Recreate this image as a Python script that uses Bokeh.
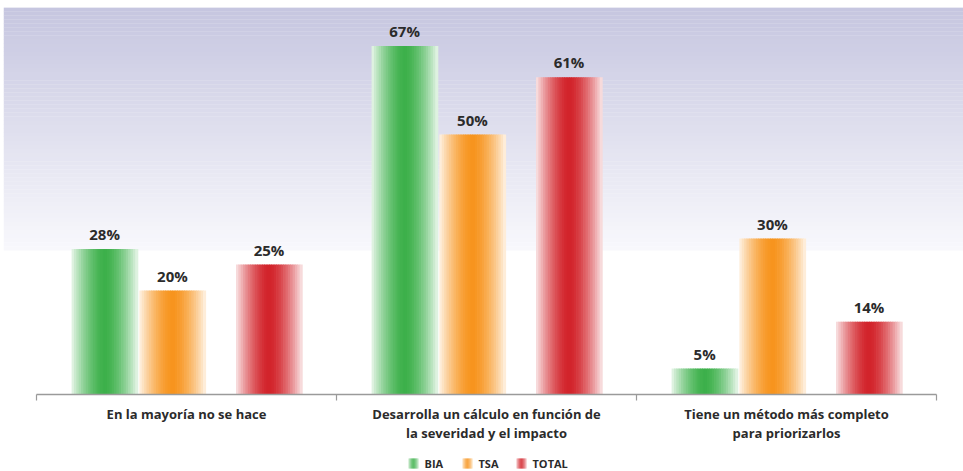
from bokeh.plotting import figure
from bokeh.core.properties import value
from bokeh.embed import file_html
from bokeh.resources import INLINE

# --- data -------------------------------------------------------------
categories = [
    "En la mayoría no se hace",
    "Desarrolla un cálculo en función de\nla severidad y el impacto",
    "Tiene un método más completo\npara priorizarlos",
]
series = ["BIA", "TSA", "TOTAL"]
bia = [28, 67, 5]
tsa = [20, 50, 30]
total = [25, 61, 14]
values_by_series = [bia, tsa, total]

# --- style / layout ---------------------------------------------------
colors = [(60, 176, 74), (247, 148, 29), (210, 35, 42)]
offsets = [0.227, 0.453, 0.775]      # bar centres inside each group (group width = 1)
bar_w = 0.22
FONT = value("Open Sans")
TXT = "#2b2b2b"

W, H = 963, 471
left_px, top_px = 3, 7
group_px = 300.0
origin_px = 36          # screen x of the first group boundary
base_px = 394           # screen y of the zero line
unit_px = 5.2           # pixels per percentage point

x0 = -(origin_px - left_px) / group_px
x1 = x0 + (W - left_px) / group_px
y1 = (base_px - top_px) / unit_px
y0 = -(H - base_px) / unit_px


def px_x(px):
    return (px - origin_px) / group_px


def px_y(py):
    return (base_px - py) / unit_px


def mix(c, t):
    return "#%02x%02x%02x" % tuple(int(round(ch + (255 - ch) * t)) for ch in c)


p = figure(width=W, height=H, x_range=(x0, x1), y_range=(y0, y1),
           output_backend="svg", toolbar_location=None,
           x_axis_location=None, y_axis_location=None,
           min_border_left=left_px, min_border_right=0,
           min_border_top=top_px, min_border_bottom=0)
p.grid.visible = False
p.outline_line_color = None
p.background_fill_color = "white"
p.border_fill_color = "white"

# --- lavender backdrop fading towards white ---------------------------
bg_top, bg_bot = (198, 198, 224), (248, 248, 252)
bg_end = px_y(250)
n_bg = 60
bl, br, bb, bt, bc = [], [], [], [], []
for i in range(n_bg):
    f = i / (n_bg - 1)
    lo = y1 - (y1 - bg_end) * (i + 1) / n_bg
    hi = y1 - (y1 - bg_end) * i / n_bg + 0.05
    col = tuple(int(round(a + (b - a) * f)) for a, b in zip(bg_top, bg_bot))
    bl.append(x0); br.append(x1); bb.append(lo); bt.append(hi)
    bc.append("#%02x%02x%02x" % col)
p.quad(left=bl, right=br, bottom=bb, top=bt, fill_color=bc, line_color=None)

# --- bars drawn as thin strips for a horizontal colour gradient -------
N = 28


def strips(cx, w, bottom, top, rgb, fade=0.88):
    L, R, B, T, C = [], [], [], [], []
    sw = w / N
    for k in range(N):
        u = (k + 0.5) / N
        t = min(1.0, abs(u - 0.5) / 0.5) ** 1.6 * fade
        L.append(cx - w / 2 + k * sw)
        R.append(cx - w / 2 + (k + 1) * sw + sw * 0.3)
        B.append(bottom); T.append(top); C.append(mix(rgb, t))
    return L, R, B, T, C


BL, BR, BB, BT, BC = [], [], [], [], []
for s, vals in enumerate(values_by_series):
    for g, v in enumerate(vals):
        L, R, B, T, C = strips(g + offsets[s], bar_w, 0, v, colors[s])
        BL += L; BR += R; BB += B; BT += T; BC += C
p.quad(left=BL, right=BR, bottom=BB, top=BT, fill_color=BC, line_color=None)

# --- value labels -----------------------------------------------------
lx, ly, lt = [], [], []
for s, vals in enumerate(values_by_series):
    for g, v in enumerate(vals):
        lx.append(g + offsets[s]); ly.append(v); lt.append(f"{v}%")
p.text(x=lx, y=ly, text=lt, text_align="center", text_baseline="bottom",
       y_offset=-5, text_font=FONT, text_font_size="15px",
       text_font_style="bold", text_color=TXT)

# --- category axis ----------------------------------------------------
n_groups = len(categories)
p.segment(x0=[0], y0=[0], x1=[n_groups], y1=[0], line_color="#9a9a9a", line_width=1.5)
tick_len = 6 / unit_px
p.segment(x0=list(range(n_groups + 1)), y0=[0] * (n_groups + 1),
          x1=list(range(n_groups + 1)), y1=[-tick_len] * (n_groups + 1),
          line_color="#9a9a9a", line_width=1.2)
p.text(x=[g + 0.5 for g in range(n_groups)], y=[0] * n_groups, text=categories,
       text_align="center", text_baseline="top", y_offset=10,
       text_font=FONT, text_font_size="13px", text_font_style="bold",
       text_color=TXT, text_line_height=1.1)

# --- legend with gradient swatches -----------------------------------
leg_y = px_y(463)
sw_h = 10 / unit_px
sw_w = 10 / group_px
swatch_px = [408, 462, 516]
LL, LR, LB, LT, LC = [], [], [], [], []
for s in range(len(series)):
    cx = px_x(swatch_px[s] + 5)
    L, R, B, T, C = strips(cx, sw_w, leg_y - sw_h / 2, leg_y + sw_h / 2, colors[s], fade=0.75)
    LL += L; LR += R; LB += B; LT += T; LC += C
p.quad(left=LL, right=LR, bottom=LB, top=LT, fill_color=LC, line_color=None)
p.text(x=[px_x(px + 16) for px in swatch_px], y=[leg_y] * len(series), text=series,
       text_align="left", text_baseline="middle", text_font=FONT,
       text_font_size="11px", text_font_style="bold", text_color=TXT)

open("out.html", "w").write(file_html(p, INLINE))
